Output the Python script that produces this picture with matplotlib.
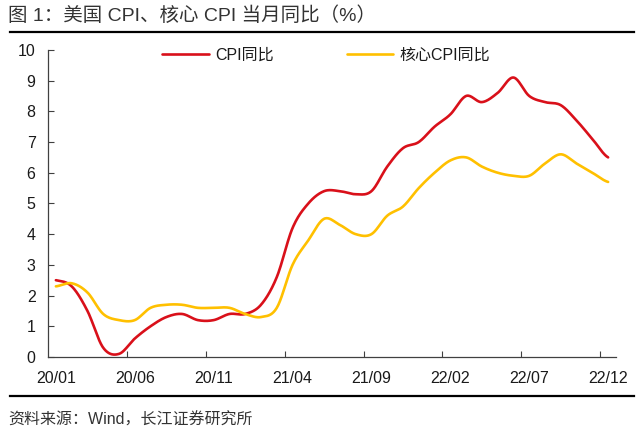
import numpy as np
import matplotlib
matplotlib.use("Agg")
import matplotlib.pyplot as plt

plt.rcParams['font.family'] = ['Liberation Sans', 'Noto Sans CJK SC', 'DejaVu Sans']

months = [f"{y:02d}/{m:02d}" for y in (20, 21, 22) for m in range(1, 13)]
cpi = [2.5, 2.3, 1.5, 0.3, 0.1, 0.6, 1.0, 1.3, 1.4, 1.2, 1.2, 1.4,
       1.4, 1.7, 2.6, 4.2, 5.0, 5.4, 5.4, 5.3, 5.4, 6.2, 6.8, 7.0,
       7.5, 7.9, 8.5, 8.3, 8.6, 9.1, 8.5, 8.3, 8.2, 7.7, 7.1, 6.5]
core = [2.3, 2.4, 2.1, 1.4, 1.2, 1.2, 1.6, 1.7, 1.7, 1.6, 1.6, 1.6,
        1.4, 1.3, 1.6, 3.0, 3.8, 4.5, 4.3, 4.0, 4.0, 4.6, 4.9, 5.5,
        6.0, 6.4, 6.5, 6.2, 6.0, 5.9, 5.9, 6.3, 6.6, 6.3, 6.0, 5.7]
labels_cn = ["CPI同比", "核心CPI同比"]
colors = ["#D9101A", "#FFC000"]


def smooth(y, n=20):
    # Catmull-Rom rendering of the monthly values (Excel-style smoothed line)
    y = np.asarray(y, float)
    x = np.arange(len(y), dtype=float)
    P = np.concatenate([[y[0]], y, [y[-1]]])
    xs, ys = [], []
    t = np.linspace(0, 1, n, endpoint=False)
    for i in range(len(y) - 1):
        p0, p1, p2, p3 = P[i], P[i + 1], P[i + 2], P[i + 3]
        m1 = (p2 - p0) / 2
        m2 = (p3 - p1) / 2
        h00 = 2 * t**3 - 3 * t**2 + 1
        h10 = t**3 - 2 * t**2 + t
        h01 = -2 * t**3 + 3 * t**2
        h11 = t**3 - t**2
        ys.append(h00 * p1 + h10 * m1 + h01 * p2 + h11 * m2)
        xs.append(x[i] + t)
    xs.append([x[-1]])
    ys.append([y[-1]])
    return np.concatenate(xs), np.concatenate(ys)


fig = plt.figure(figsize=(6.4, 4.34), dpi=100)
ax = fig.add_axes([0.075, 0.1775, 0.8875, 0.7075])

for series, lab, c in zip([cpi, core], labels_cn, colors):
    xs, ys = smooth(series)
    ax.plot(xs, ys, color=c, lw=1.9, label=lab, solid_capstyle='round')

ax.set_xlim(-0.5, len(months) - 0.5)
ax.set_ylim(0, 10)
ax.set_yticks(range(0, 11))
ax.set_xticks(np.arange(4.5, len(months) - 0.5, 5))
ax.set_xticklabels([])
ax.set_xticks(range(0, len(months), 5), minor=True)
ax.set_xticklabels([months[i] for i in range(0, len(months), 5)], minor=True)
ax.tick_params(axis='x', which='major', direction='in', length=4, width=0.8, color='#404040')
ax.tick_params(axis='x', which='minor', length=0, pad=10, labelsize=11.5, labelcolor='#1a1a1a')
ax.tick_params(axis='y', direction='in', length=4, width=0.8, color='#404040', pad=9,
               labelsize=11.5, labelcolor='#1a1a1a')
for s in ['top', 'right']:
    ax.spines[s].set_visible(False)
for s in ['left', 'bottom']:
    ax.spines[s].set_color('#404040')
    ax.spines[s].set_linewidth(0.9)

leg = ax.legend(loc='upper center', bbox_to_anchor=(0.49, 1.055), ncol=2, frameon=False,
                fontsize=11.5, handlelength=2.9, handletextpad=0.4, columnspacing=4.6)
for t in leg.get_texts():
    t.set_color('#1a1a1a')

fig.text(0.013, 0.963, "图 1：美国 CPI、核心 CPI 当月同比（%）", fontsize=14, color='#333333',
         va='center', ha='left')
fig.add_artist(plt.Line2D([0.016, 0.99], [0.926, 0.926], color='black', lw=1.6))
fig.add_artist(plt.Line2D([0.016, 0.99], [0.088, 0.088], color='black', lw=1.6))
fig.text(0.013, 0.032, "资料来源：Wind，长江证券研究所", fontsize=11.5, color='#333333',
         va='center', ha='left')

fig.savefig("out.png", dpi=100)
